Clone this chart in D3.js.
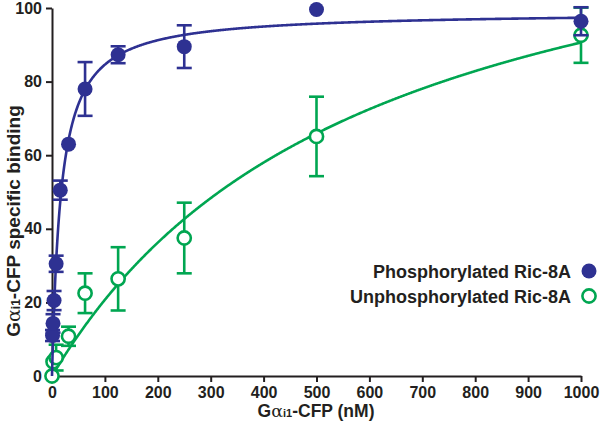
<!DOCTYPE html>
<html>
<head>
<meta charset="utf-8">
<script src="https://cdn.jsdelivr.net/npm/d3@7"></script>
<style>
  body { margin: 0; background: #fff; }
  text { font-family: "Liberation Sans", Arial, sans-serif; font-weight: bold; fill: #231f20; }
</style>
</head>
<body>
<svg id="chart" width="600" height="433"></svg>
<script>
// ---- data ----
const phosX   = [0.98, 1.95, 3.9, 7.8, 15.6, 31.25, 62.5, 125, 250, 500, 1000];
const phosY   = [11, 14.3, 20.5, 30.5, 50.5, 63, 78, 87.3, 89.5, 99.6, 96.4];
const phosErr = [1.5, 2.5, 2.6, 2.2, 2.6, 0, 7.3, 2.3, 5.8, 0, 3.8];

const unphX   = [0, 2, 7.8, 31.25, 62.5, 125, 250, 500, 1000];
const unphY   = [0, 3.9, 5, 10.8, 22.5, 26.4, 37.5, 65.1, 92.6];
const unphErr = [0, 0, 3.5, 2.6, 5.4, 8.6, 9.6, 10.8, 7.5];

// one-site binding fits (Bmax, Kd)
const phosFit = { bmax: 99, kd: 17 };
const unphFit = { bmax: 145, kd: 600 };

const xTicks = [0, 100, 200, 300, 400, 500, 600, 700, 800, 900, 1000];
const yTicks = [0, 20, 40, 60, 80, 100];
const legendLabels = ["Phosphorylated Ric-8A", "Unphosphorylated Ric-8A"];

const blue = "#2e3192", green = "#00a651", ink = "#231f20";

const svg = d3.select("#chart");
const x = d3.scaleLinear().domain([0, 1000]).range([52, 581]);
const y = d3.scaleLinear().domain([0, 100]).range([376, 8]);

// axes
const xAxis = svg.append("g").attr("transform", `translate(0,${y(0)})`)
  .call(d3.axisBottom(x).tickValues(xTicks).tickFormat(d3.format("d")).tickSize(6).tickSizeOuter(0).tickPadding(5));
const yAxis = svg.append("g").attr("transform", `translate(${x(0)},0)`)
  .call(d3.axisLeft(y).tickValues(yTicks).tickFormat(d3.format("d")).tickSize(6).tickSizeOuter(0).tickPadding(4));
[xAxis, yAxis].forEach(g => {
  g.select(".domain").attr("stroke", ink).attr("stroke-width", 2);
  g.selectAll(".tick line").attr("stroke", ink).attr("stroke-width", 2);
  g.selectAll(".tick text").style("font-size", "16px").attr("fill", ink);
});

// axis titles
const xt = svg.append("text").attr("x", 316).attr("y", 417).attr("text-anchor", "middle").style("font-size", "17.5px");
xt.append("tspan").text("G");
xt.append("tspan").text("α").style("font-family", "DejaVu Serif").style("font-weight", "normal");
xt.append("tspan").text("i1").style("font-size", "11px");
xt.append("tspan").text("-CFP (nM)");

const yt = svg.append("text").attr("transform", "translate(20,221) rotate(-90)").attr("text-anchor", "middle").style("font-size", "19px");
yt.append("tspan").text("G");
yt.append("tspan").text("α").style("font-family", "DejaVu Serif").style("font-weight", "normal");
yt.append("tspan").text("i1").style("font-size", "12px");
yt.append("tspan").text("-CFP specific binding");

// fit curves
function curve(fit) {
  const pts = d3.range(0, 1000.01, 1).map(v => [v, fit.bmax * v / (fit.kd + v)]);
  return d3.line().x(d => x(d[0])).y(d => y(d[1]))(pts);
}

function drawSeries(xs, ys, errs, fit, color, filled) {
  const g = svg.append("g");
  g.append("path").attr("d", curve(fit)).attr("fill", "none").attr("stroke", color).attr("stroke-width", 2.6);
  const data = xs.map((v, i) => ({ x: v, y: ys[i], e: errs[i] }));
  const eb = g.selectAll(".eb").data(data.filter(d => d.e > 0)).enter().append("g");
  eb.append("line").attr("x1", d => x(d.x)).attr("x2", d => x(d.x))
    .attr("y1", d => y(d.y - d.e)).attr("y2", d => y(d.y + d.e))
    .attr("stroke", color).attr("stroke-width", 2.6);
  [-1, 1].forEach(s => {
    eb.append("line").attr("x1", d => x(d.x) - 7.5).attr("x2", d => x(d.x) + 7.5)
      .attr("y1", d => y(d.y + s * d.e)).attr("y2", d => y(d.y + s * d.e))
      .attr("stroke", color).attr("stroke-width", 2.6);
  });
  g.selectAll(".pt").data(data).enter().append("circle")
    .attr("cx", d => x(d.x)).attr("cy", d => y(d.y))
    .attr("r", filled ? 7.5 : 6.6)
    .attr("fill", filled ? color : "#fff")
    .attr("stroke", filled ? "none" : color).attr("stroke-width", 2.6);
}

drawSeries(unphX, unphY, unphErr, unphFit, green, false);
drawSeries(phosX, phosY, phosErr, phosFit, blue, true);

// legend
const legend = svg.append("g");
const legColors = [blue, green];
legendLabels.forEach((lab, i) => {
  const ly = 271 + i * 25;
  legend.append("text").attr("x", 571).attr("y", ly + 6.5).attr("text-anchor", "end").style("font-size", "18px").text(lab);
  legend.append("circle").attr("cx", 589).attr("cy", ly).attr("r", i === 0 ? 7.5 : 6.6)
    .attr("fill", i === 0 ? legColors[i] : "#fff")
    .attr("stroke", i === 0 ? "none" : legColors[i]).attr("stroke-width", 2.6);
});
</script>
</body>
</html>
